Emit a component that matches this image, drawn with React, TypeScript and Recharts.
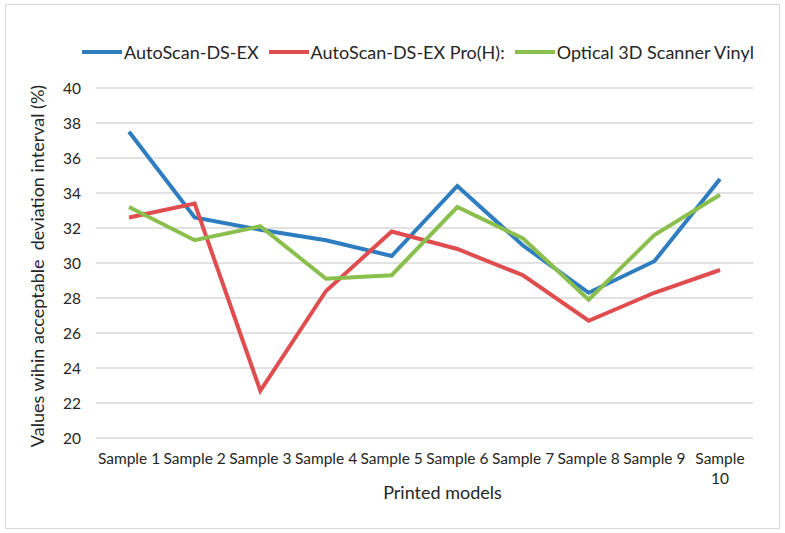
import { LineChart, Line, XAxis, YAxis, CartesianGrid, Legend } from 'recharts';

// valores (%)
const samples = ['Sample 1', 'Sample 2', 'Sample 3', 'Sample 4', 'Sample 5', 'Sample 6', 'Sample 7', 'Sample 8', 'Sample 9', 'Sample 10'];
const autoScan = [37.5, 32.6, 31.9, 31.3, 30.4, 34.4, 31.0, 28.3, 30.1, 34.8];
const autoScanPro = [32.6, 33.4, 22.7, 28.4, 31.8, 30.8, 29.3, 26.7, 28.3, 29.6];
const optical = [33.2, 31.3, 32.1, 29.1, 29.3, 33.2, 31.4, 27.9, 31.6, 33.9];
const yTicks = [20, 22, 24, 26, 28, 30, 32, 34, 36, 38, 40];

const data = samples.map((s, i) => ({
  name: s,
  a: autoScan[i],
  b: autoScanPro[i],
  c: optical[i],
}));

const FONT = 'Lato, "Open Sans", sans-serif';
const TXT = '#262626';

const SampleTick = ({ x, y, payload }: any) => {
  const label: string = payload.value;
  // "Sample 10" no cabe en una línea
  const lines = label.length > 8 ? label.split(' ') : [label];
  return (
    <text x={x} y={y} textAnchor="middle" fill={TXT} fontSize={15.5} fontFamily={FONT}>
      {lines.map((l, i) => (
        <tspan key={i} x={x} dy={i === 0 ? '0.71em' : '1.3em'}>{l}</tspan>
      ))}
    </text>
  );
};

const LegendContent = ({ payload }: any) => (
  <div style={{ height: 24, display: 'flex', justifyContent: 'center', alignItems: 'center', gap: 10, fontFamily: FONT, fontSize: 18, color: TXT }}>
    {payload.map((p: any) => (
      <div key={p.value} style={{ display: 'flex', alignItems: 'center', gap: 2 }}>
        <span style={{ display: 'inline-block', width: 40, height: 4, background: p.color }} />
        <span>{p.value}</span>
      </div>
    ))}
  </div>
);

export default function App() {
  return (
    <div style={{ position: 'absolute', left: 0, top: 0, width: 785, height: 533, background: '#fff' }}>
      <div style={{ position: 'absolute', left: 5, top: 4, width: 773, height: 523, border: '1px solid #d9d9d9' }} />
      <LineChart width={785} height={533} data={data} margin={{ top: 64, right: 32, left: 56, bottom: 65 }}>
        <CartesianGrid stroke="#d9d9d9" strokeWidth={1.5} vertical={false} />
        <XAxis
          dataKey="name"
          axisLine={false}
          tickLine={false}
          interval={0}
          padding={{ left: 33, right: 33 }}
          tick={<SampleTick />}
          tickMargin={9}
          label={({ viewBox }: any) => (
            <text x={viewBox.x + viewBox.width / 2 + 18} y={viewBox.y + 61} textAnchor="middle" fill={TXT} fontSize={18} fontFamily={FONT}>
              Printed models
            </text>
          )}
        />
        <YAxis
          width={40}
          domain={[20, 40]}
          ticks={yTicks}
          axisLine={false}
          tickLine={false}
          tickMargin={9}
          tick={{ fill: TXT, fontSize: 15.5, fontFamily: FONT }}
          label={({ viewBox }: any) => {
            const cx = 37;
            const cy = viewBox.y + viewBox.height / 2 + 3;
            return (
              <text x={cx} y={cy} transform={`rotate(-90 ${cx} ${cy})`} textAnchor="middle" dominantBaseline="central" fill={TXT} fontSize={18} fontFamily={FONT} style={{ whiteSpace: 'pre' }}>
                Values wihin acceptable  deviation interval (%)
              </text>
            );
          }}
        />
        <Legend verticalAlign="top" content={<LegendContent />} wrapperStyle={{ top: 40, left: 82, width: 672 }} />
        <Line dataKey="a" name="AutoScan-DS-EX" stroke="#2E7DC0" strokeWidth={4} dot={false} isAnimationActive={false} />
        <Line dataKey="b" name="AutoScan-DS-EX Pro(H):" stroke="#DF4D4F" strokeWidth={4} dot={false} isAnimationActive={false} />
        <Line dataKey="c" name="Optical 3D Scanner Vinyl" stroke="#8BBF4D" strokeWidth={4} dot={false} isAnimationActive={false} />
      </LineChart>
    </div>
  );
}
